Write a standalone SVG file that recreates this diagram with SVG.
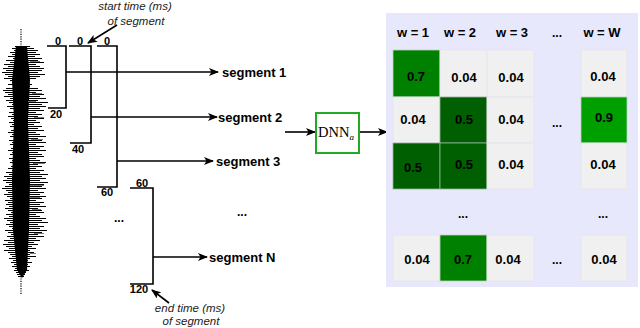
<svg xmlns="http://www.w3.org/2000/svg" width="640" height="328" viewBox="0 0 640 328">
<style>
.ln{stroke:#000;stroke-width:1.6;fill:none}
.num{font-family:"Liberation Sans",Arial,sans-serif;font-weight:bold;font-size:11px;fill:#000;text-anchor:middle}
.seg{font-family:"Liberation Sans",Arial,sans-serif;font-weight:bold;font-size:13px;fill:#000}
.ann{font-family:"Liberation Sans",Arial,sans-serif;font-style:italic;font-size:11.5px;fill:#222;text-anchor:middle}
.hd{font-family:"Liberation Sans",Arial,sans-serif;font-weight:bold;font-size:13px;fill:#000;text-anchor:middle}
.cv{font-family:"Liberation Sans",Arial,sans-serif;font-weight:bold;font-size:13px;fill:#000;text-anchor:middle}
.cg{fill:#f0f0f0;stroke:#e4e4ee;stroke-width:0.8}
.c7{fill:#008000;stroke:#b8d8b8;stroke-width:0.8}
.c5{fill:#005f00;stroke:#9ab09a;stroke-width:0.8}
.c9{fill:#009f00;stroke:#b8d8b8;stroke-width:0.8}
.dots{font-family:"Liberation Sans",Arial,sans-serif;font-weight:bold;font-size:12px;fill:#000;text-anchor:middle}
</style>
<defs>
<marker id="ah" markerWidth="10" markerHeight="8" refX="9" refY="4" orient="auto" markerUnits="userSpaceOnUse">
<path d="M0,0 L10,4 L0,8 L2.5,4 Z" fill="#000"/>
</marker>
</defs>
<rect width="640" height="328" fill="#fff"/>

<g id="waveform">
<line x1="21" y1="29" x2="21" y2="46" stroke="#000" stroke-width="1.2" stroke-dasharray="1.2,1.2"/>
<line x1="21" y1="276" x2="21" y2="294" stroke="#000" stroke-width="1.2" stroke-dasharray="1.2,1.2"/>
<path d="M16,46 L27,46 L30,80 L28,120 L30,180 L29,230 L27,270 L22,278 L17,270 L13,230 L12,180 L14,120 L12,80 Z" fill="#000"/>
<path transform="translate(0,0.5)" stroke="#000" stroke-width="1" fill="none" d="M15,46H30M12,48H34M14,50H38M10,52H36M12,54H40M8,56H35M13,58H42M6,60H38M10,62H44M4,64H36M8,66H40M3,68H44M6,70H42M2,72H38M5,74H45M8,76H40M4,78H36M10,80H30M12,82H28M8,84H32M14,86H30M6,88H38M3,90H42M5,92H36M8,94H44M4,96H40M10,98H46M6,100H38M9,102H48M12,104H42M7,106H46M10,108H40M14,110H44M9,112H36M12,114H42M8,116H38M11,118H44M13,120H36M9,122H40M12,124H34M10,126H42M14,128H38M11,130H44M8,132H36M12,134H40M10,136H46M14,138H38M9,140H42M12,142H46M10,144H36M13,146H44M11,148H40M8,150H46M12,152H38M10,154H42M14,156H44M9,158H36M12,160H40M10,162H46M13,164H38M11,166H42M8,168H36M12,170H44M6,172H40M9,174H48M4,176H42M7,178H46M3,180H40M6,182H48M9,184H44M5,186H42M2,188H46M6,190H38M8,192H44M4,194H40M7,196H46M10,198H42M5,200H36M8,202H44M6,204H40M9,206H46M5,208H38M8,210H42M11,212H44M6,214H36M9,216H40M4,218H46M7,220H42M10,222H48M6,224H38M9,226H44M12,228H40M5,230H47M8,232H42M11,234H38M7,236H44M10,238H36M4,240H40M8,242H34M3,244H38M6,246H32M9,248H36M4,250H30M8,252H34M10,254H30M12,256H36M9,258H30M13,260H28M11,262H32M14,264H28M12,266H30M15,268H27M14,270H29M16,272H26M17,274H25M18,276H24"/>
<path transform="translate(0,0.5)" stroke="#777" stroke-width="1" fill="none" d="M30,61H40M32,93H42M34,117H44M31,139H43M33,163H45M30,185H44M32,209H41M34,233H44M30,253H36M28,101H36M30,197H40"/>
</g>

<g id="connectors">
<path class="ln" d="M47,46H66V108H48"/>
<path class="ln" d="M69,46H91V143H70"/>
<path class="ln" d="M97,46H117V187H97"/>
<path class="ln" d="M130,188H153V284H130"/>
<line class="ln" x1="66" y1="72" x2="218" y2="72" marker-end="url(#ah)"/>
<line class="ln" x1="91" y1="117" x2="217" y2="117" marker-end="url(#ah)"/>
<line class="ln" x1="117" y1="161" x2="213" y2="161" marker-end="url(#ah)"/>
<line class="ln" x1="153" y1="257" x2="207" y2="257" marker-end="url(#ah)"/>
<line class="ln" x1="285" y1="132" x2="315" y2="132" marker-end="url(#ah)"/>
<line class="ln" x1="359" y1="132" x2="387" y2="132" marker-end="url(#ah)"/>
<line x1="117" y1="25" x2="88" y2="43" stroke="#000" stroke-width="1.6" marker-end="url(#ah)"/>
<line x1="169" y1="303" x2="152" y2="290" stroke="#000" stroke-width="1.6" marker-end="url(#ah)"/>
</g>

<g id="bracket-labels">
<text class="num" x="58" y="45">0</text>
<text class="num" x="80" y="45">0</text>
<text class="num" x="107" y="45">0</text>
<text class="num" x="56" y="118">20</text>
<text class="num" x="78" y="153">40</text>
<text class="num" x="107" y="196">60</text>
<text class="num" x="142" y="187">60</text>
<text class="num" x="139" y="293">120</text>
<text class="dots" x="119" y="222">...</text>
<text class="dots" x="242" y="216">...</text>
</g>

<g id="annotations">
<text class="ann" x="135" y="10">start time (ms)</text>
<text class="ann" x="136" y="25">of segment</text>
<text class="ann" x="190" y="312">end time (ms)</text>
<text class="ann" x="191" y="325">of segment</text>
</g>

<g id="segments">
<text class="seg" x="222" y="77">segment 1</text>
<text class="seg" x="218" y="122">segment 2</text>
<text class="seg" x="216" y="166">segment 3</text>
<text class="seg" x="209" y="262">segment N</text>
</g>

<g id="dnn">
<rect x="316" y="113" width="43" height="40" fill="#fff" stroke="#22aa22" stroke-width="2"/>
<text x="318" y="137" font-family="'Liberation Serif','Times New Roman',serif" font-size="14.5" fill="#000">DNN<tspan font-style="italic" font-size="9" dy="3">a</tspan></text>
</g>

<g id="matrix">
<rect x="386" y="13" width="252" height="274" fill="#e8e8fc"/>
<text class="hd" x="413" y="37">w = 1</text>
<text class="hd" x="460" y="37">w = 2</text>
<text class="hd" x="512" y="37">w = 3</text>
<text class="dots" x="557" y="37">...</text>
<text class="hd" x="602" y="37">w = W</text>

<rect class="c7" x="393" y="50" width="47" height="47"/>
<rect class="cg" x="440" y="50" width="47" height="47"/>
<rect class="cg" x="487" y="50" width="47" height="47"/>
<rect class="cg" x="581" y="50" width="46" height="47"/>

<rect class="cg" x="393" y="97" width="47" height="46"/>
<rect class="c5" x="440" y="97" width="47" height="46"/>
<rect class="cg" x="487" y="97" width="47" height="46"/>
<rect class="c9" x="581" y="97" width="46" height="46"/>

<rect class="c5" x="393" y="143" width="47" height="46"/>
<rect class="c5" x="440" y="143" width="47" height="46"/>
<rect class="cg" x="487" y="143" width="47" height="46"/>
<rect class="cg" x="581" y="143" width="46" height="46"/>

<rect class="cg" x="393" y="235" width="47" height="46"/>
<rect class="c7" x="440" y="235" width="47" height="46"/>
<rect class="cg" x="487" y="235" width="47" height="46"/>
<rect class="cg" x="581" y="235" width="46" height="46"/>

<text class="cv" x="416" y="81">0.7</text>
<text class="cv" x="464" y="82">0.04</text>
<text class="cv" x="511" y="82">0.04</text>
<text class="cv" x="603" y="81">0.04</text>

<text class="cv" x="413" y="124">0.04</text>
<text class="cv" x="464" y="124">0.5</text>
<text class="cv" x="511" y="124">0.04</text>
<text class="dots" x="557" y="127">...</text>
<text class="cv" x="604" y="122">0.9</text>

<text class="cv" x="413" y="172">0.5</text>
<text class="cv" x="464" y="169">0.5</text>
<text class="cv" x="511" y="169">0.04</text>
<text class="cv" x="603" y="169">0.04</text>

<text class="dots" x="463" y="218">...</text>
<text class="dots" x="603" y="218">...</text>

<text class="cv" x="417" y="264">0.04</text>
<text class="cv" x="463" y="264">0.7</text>
<text class="cv" x="508" y="264">0.04</text>
<text class="dots" x="557" y="264">...</text>
<text class="cv" x="604" y="264">0.04</text>
</g>
</svg>
